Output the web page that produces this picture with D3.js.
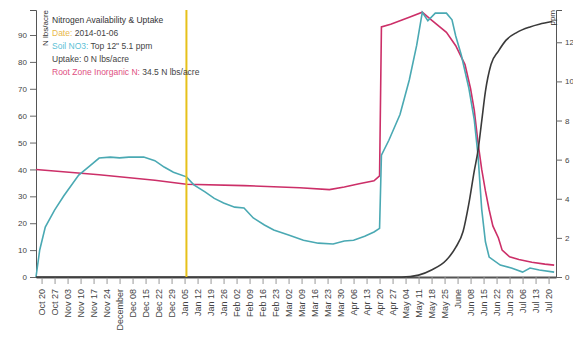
<!DOCTYPE html>
<html><head><meta charset="utf-8">
<script src="https://cdn.jsdelivr.net/npm/d3@7"></script>
<style>
body{margin:0;background:#fff;}
svg text{font-family:"Liberation Sans",Arial,sans-serif;}
</style></head>
<body><svg id="c" width="573" height="339"></svg>
<script>
const rootDates = ["2013-10-17","2013-11-20","2013-12-20","2014-01-06","2014-02-06","2014-03-08","2014-03-24","2014-04-01","2014-04-09","2014-04-17","2014-04-20","2014-04-21","2014-04-26","2014-05-06","2014-05-13","2014-05-18","2014-05-26","2014-05-31","2014-06-05","2014-06-08","2014-06-10","2014-06-12","2014-06-14","2014-06-16","2014-06-18","2014-06-20","2014-06-23","2014-06-25","2014-06-29","2014-07-04","2014-07-11","2014-07-18","2014-07-23"];
const rootN = [40,38,36,34.5,34,33.2,32.5,33.5,34.7,35.8,37.6,93,94,96.6,98.5,95.5,91,86,79,70,62,50,40,32,25,19,14.5,10,7.5,6.5,5.5,4.8,4.4];

const no3Dates = ["2013-10-17","2013-10-19","2013-10-22","2013-10-27","2013-11-01","2013-11-09","2013-11-15","2013-11-20","2013-11-26","2013-12-01","2013-12-06","2013-12-14","2013-12-20","2013-12-25","2013-12-30","2014-01-06","2014-01-10","2014-01-16","2014-01-21","2014-01-26","2014-02-01","2014-02-06","2014-02-11","2014-02-17","2014-02-22","2014-03-02","2014-03-10","2014-03-18","2014-03-26","2014-04-01","2014-04-06","2014-04-12","2014-04-17","2014-04-20","2014-04-21","2014-04-25","2014-05-01","2014-05-06","2014-05-10","2014-05-13","2014-05-16","2014-05-20","2014-05-26","2014-05-29","2014-05-31","2014-06-03","2014-06-07","2014-06-10","2014-06-12","2014-06-14","2014-06-16","2014-06-18","2014-06-24","2014-06-30","2014-07-06","2014-07-10","2014-07-15","2014-07-23"];
const no3Ppm = [0,1.38,2.55,3.42,4.15,5.21,5.68,6.08,6.13,6.09,6.13,6.13,5.95,5.62,5.36,5.12,4.71,4.35,4.02,3.78,3.57,3.53,3.02,2.66,2.40,2.15,1.88,1.73,1.69,1.84,1.88,2.08,2.30,2.49,6.23,6.99,8.31,10.07,11.85,13.53,13.1,13.49,13.49,13.15,12.32,11.35,9.69,8.03,6.23,3.46,1.80,1.02,0.61,0.46,0.25,0.46,0.36,0.25];

const uptakeDates = ["2013-10-17","2014-05-02","2014-05-11","2014-05-18","2014-05-26","2014-05-31","2014-06-04","2014-06-07","2014-06-10","2014-06-12","2014-06-14","2014-06-16","2014-06-19","2014-06-23","2014-06-27","2014-07-03","2014-07-10","2014-07-15","2014-07-22"];
const uptakeN = [0,0,0.7,2.6,6.3,11,17,27,39.5,47,58,69,79,84,88,91,93,94,95];

const dateRange = ["2013-10-17","2014-07-24"];
const leftMax = 99.3, rightMax = 13.65;
const selectedDate = "2014-01-06";
const leftTicks = [0,10,20,30,40,50,60,70,80,90];
const rightTicks = [0,2,4,6,8,10,12];

const parse = d3.timeParse("%Y-%m-%d");
const svg = d3.select("#c");
const m = {l:36, r:17, t:10, b:62};
const W = 573, H = 339;
const x = d3.scaleTime().domain(dateRange.map(parse)).range([m.l, W - m.r]);
const yL = d3.scaleLinear().domain([0, leftMax]).range([H - m.b, m.t]);
const yR = d3.scaleLinear().domain([0, rightMax]).range([H - m.b, m.t]);

const root = rootDates.map((d,i)=>({d:parse(d), v:rootN[i]}));
const no3 = no3Dates.map((d,i)=>({d:parse(d), v:no3Ppm[i]}));
const upt = uptakeDates.map((d,i)=>({d:parse(d), v:uptakeN[i]}));

// x axis
const gx = svg.append("g").attr("transform",`translate(0,${H-m.b})`)
  .call(d3.axisBottom(x).ticks(d3.timeWeek.every(1)).tickSizeOuter(0));
gx.select(".domain").attr("stroke","#555").attr("stroke-width",2);
gx.selectAll(".tick line").attr("stroke","#999").attr("y2",7);
gx.selectAll(".tick text").attr("transform","rotate(-90)").attr("x",-12).attr("y",0)
  .attr("dy","0.35em").style("text-anchor","end").attr("fill","#444").style("font-size","9px");

// left axis
const gl = svg.append("g").attr("transform",`translate(${m.l},0)`)
  .call(d3.axisLeft(yL).tickValues(leftTicks));
gl.select(".domain").attr("stroke","#555");
gl.selectAll(".tick line").attr("stroke","#666");
gl.selectAll(".tick text").attr("fill","#444").style("font-size","8px");
gl.append("text").attr("transform","rotate(-90)").attr("x",-m.t).attr("y",6).attr("dy","0.71em")
  .style("text-anchor","end").attr("fill","#333").style("font-size","8px").text("N lbs/acre");

// right axis
const gr = svg.append("g").attr("transform",`translate(${W-m.r},0)`)
  .call(d3.axisRight(yR).tickValues(rightTicks));
gr.select(".domain").attr("stroke","#555");
gr.selectAll(".tick line").attr("stroke","#666");
gr.selectAll(".tick text").attr("fill","#444").style("font-size","8px");
gr.append("text").attr("transform","rotate(-90)").attr("x",-m.t).attr("y",-1)
  .style("text-anchor","end").attr("fill","#333").style("font-size","8px").text("ppm");

// lines
const lineL = d3.line().x(d=>x(d.d)).y(d=>yL(d.v));
const lineR = d3.line().x(d=>x(d.d)).y(d=>yR(d.v));
const lineU = d3.line().x(d=>x(d.d)).y(d=>yL(d.v)).curve(d3.curveMonotoneX);

svg.append("path").datum(root).attr("d",lineL).attr("fill","none").attr("stroke","#cc2f68").attr("stroke-width",1.6);
svg.append("path").datum(no3).attr("d",lineR).attr("fill","none").attr("stroke","#4aa9b3").attr("stroke-width",1.6);
svg.append("path").datum(upt).attr("d",lineU).attr("fill","none").attr("stroke","#3a3a3a").attr("stroke-width",1.6);

// selected date
const sd = parse(selectedDate);
svg.append("line").attr("x1",x(sd)).attr("x2",x(sd)).attr("y1",yL(leftMax)).attr("y2",yL(0))
  .attr("stroke","#e6c11a").attr("stroke-width",2);

// legend
const fmt = d3.format(".1f");
const iSel = no3Dates.indexOf(selectedDate);
const rSel = rootDates.indexOf(selectedDate);
const uptakeAtSel = 0;
const legend = [
  [{t:"Nitrogen Availability & Uptake", c:"#333"}],
  [{t:"Date: ", c:"#e8b84a"}, {t:selectedDate, c:"#444"}],
  [{t:"Soil NO3: ", c:"#5bbfd6"}, {t:"Top 12\" " + fmt(no3Ppm[iSel]) + " ppm", c:"#444"}],
  [{t:"Uptake: ", c:"#444"}, {t:uptakeAtSel + " N lbs/acre", c:"#444"}],
  [{t:"Root Zone Inorganic N: ", c:"#e0507f"}, {t:fmt(rootN[rSel]) + " N lbs/acre", c:"#444"}]
];
const lg = svg.append("g");
legend.forEach((row,i)=>{
  const t = lg.append("text").attr("x",52).attr("y",23 + i*13).style("font-size","8.5px");
  row.forEach(s=>t.append("tspan").attr("fill",s.c).text(s.t));
});
</script></body></html>
